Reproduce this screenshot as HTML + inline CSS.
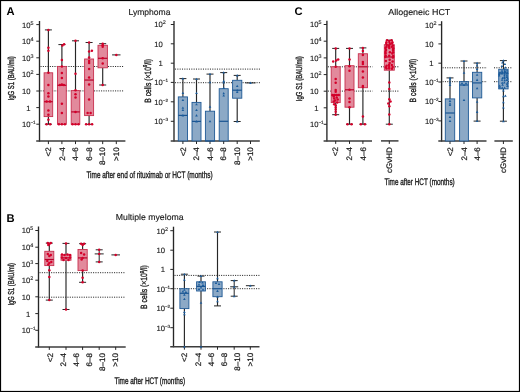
<!DOCTYPE html><html><head><meta charset="utf-8"><style>html,body{margin:0;padding:0;background:#fff;}svg{display:block;will-change:transform;}text{text-rendering:geometricPrecision;} .t{stroke:#1a1a1a;stroke-width:0.22px;} .ty{stroke:#1a1a1a;stroke-width:0.12px;} .tt{stroke:#1a1a1a;stroke-width:0.15px;} .ttl{stroke:#1a1a1a;stroke-width:0.35px;}</style></head><body>
<svg width="520" height="392" viewBox="0 0 520 392" font-family='"Liberation Sans", sans-serif'>
<rect x="0" y="0" width="520" height="392" fill="#fff"/>
<rect x="0.5" y="0.5" width="519" height="391" fill="none" stroke="#000" stroke-width="1.2"/>
<text x="6.4" y="14.6" font-size="11.2" text-anchor="start" font-weight="bold" fill="#000" >A</text>
<text x="6.4" y="221.8" font-size="11.2" text-anchor="start" font-weight="bold" fill="#000" >B</text>
<text x="294.5" y="14.6" font-size="11.2" text-anchor="start" font-weight="bold" fill="#000" >C</text>
<text x="128.5" y="14.8" font-size="8.6" text-anchor="start" font-weight="normal" fill="#1a1a1a" textLength="42" lengthAdjust="spacingAndGlyphs" class="tt">Lymphoma</text>
<text x="115.8" y="220" font-size="8.6" text-anchor="start" font-weight="normal" fill="#1a1a1a" textLength="67.8" lengthAdjust="spacingAndGlyphs" class="tt">Multiple myeloma</text>
<text x="388.3" y="14.6" font-size="8.6" text-anchor="start" font-weight="normal" fill="#1a1a1a" textLength="62" lengthAdjust="spacingAndGlyphs" class="tt">Allogeneic HCT</text>
<text x="86.4" y="177.8" font-size="9.5" text-anchor="start" font-weight="normal" fill="#1a1a1a" textLength="126.2" lengthAdjust="spacingAndGlyphs" class="ttl">Time after end of rituximab or HCT (months)</text>
<text x="114.5" y="383.8" font-size="9.5" text-anchor="start" font-weight="normal" fill="#1a1a1a" textLength="70.6" lengthAdjust="spacingAndGlyphs" class="ttl">Time after HCT (months)</text>
<text x="384.5" y="184.5" font-size="9.5" text-anchor="start" font-weight="normal" fill="#1a1a1a" textLength="70.2" lengthAdjust="spacingAndGlyphs" class="ttl">Time after HCT (months)</text>
<text x="14.3" y="100.4" font-size="8.6" text-anchor="start" font-weight="normal" fill="#1a1a1a" textLength="44.2" lengthAdjust="spacingAndGlyphs" transform="rotate(-90 14.3 100.4)" class="ttl">IgG S1 (BAU/ml)</text>
<text x="13.9" y="305.5" font-size="8.6" text-anchor="start" font-weight="normal" fill="#1a1a1a" textLength="42.5" lengthAdjust="spacingAndGlyphs" transform="rotate(-90 13.9 305.5)" class="ttl">IgG S1 (BAU/ml)</text>
<text x="302.2" y="101.2" font-size="8.6" text-anchor="start" font-weight="normal" fill="#1a1a1a" textLength="45" lengthAdjust="spacingAndGlyphs" transform="rotate(-90 302.2 101.2)" class="ttl">IgG S1 (BAU/ml)</text>
<text class="ttl" x="150.6" y="102.7" font-size="9.1" fill="#1a1a1a" transform="rotate(-90 150.6 102.7)" textLength="43.6" lengthAdjust="spacingAndGlyphs">B cells (×10<tspan font-size="5.6" dy="-3.4">9</tspan><tspan dy="3.4">/l)</tspan></text>
<text class="ttl" x="147.2" y="308.9" font-size="9.1" fill="#1a1a1a" transform="rotate(-90 147.2 308.9)" textLength="43.6" lengthAdjust="spacingAndGlyphs">B cells (×10<tspan font-size="5.6" dy="-3.4">9</tspan><tspan dy="3.4">/l)</tspan></text>
<text class="ttl" x="416.2" y="102.4" font-size="9.1" fill="#1a1a1a" transform="rotate(-90 416.2 102.4)" textLength="43.6" lengthAdjust="spacingAndGlyphs">B cells (×10<tspan font-size="5.6" dy="-3.4">9</tspan><tspan dy="3.4">/l)</tspan></text>
<line x1="39.5" y1="21" x2="39.5" y2="141.7" stroke="#262626" stroke-width="1.35" />
<line x1="36.3" y1="24.6" x2="39.5" y2="24.6" stroke="#262626" stroke-width="1" />
<text x="30.5" y="27.5" font-size="7.7" text-anchor="end" fill="#1a1a1a" class="ty">10</text>
<text x="30.45" y="24.5" font-size="5.4" text-anchor="start" fill="#1a1a1a" class="ty">5</text>
<line x1="36.3" y1="41.2" x2="39.5" y2="41.2" stroke="#262626" stroke-width="1" />
<text x="30.5" y="44.1" font-size="7.7" text-anchor="end" fill="#1a1a1a" class="ty">10</text>
<text x="30.45" y="41.1" font-size="5.4" text-anchor="start" fill="#1a1a1a" class="ty">4</text>
<line x1="36.3" y1="57.8" x2="39.5" y2="57.8" stroke="#262626" stroke-width="1" />
<text x="30.5" y="60.7" font-size="7.7" text-anchor="end" fill="#1a1a1a" class="ty">10</text>
<text x="30.45" y="57.7" font-size="5.4" text-anchor="start" fill="#1a1a1a" class="ty">3</text>
<line x1="36.3" y1="74.4" x2="39.5" y2="74.4" stroke="#262626" stroke-width="1" />
<text x="30.5" y="77.3" font-size="7.7" text-anchor="end" fill="#1a1a1a" class="ty">10</text>
<text x="30.45" y="74.3" font-size="5.4" text-anchor="start" fill="#1a1a1a" class="ty">2</text>
<line x1="36.3" y1="91" x2="39.5" y2="91" stroke="#262626" stroke-width="1" />
<text x="30.5" y="93.9" font-size="7.7" text-anchor="end" fill="#1a1a1a" class="ty">10</text>
<line x1="36.3" y1="107.6" x2="39.5" y2="107.6" stroke="#262626" stroke-width="1" />
<text x="30.5" y="110.5" font-size="7.7" text-anchor="end" fill="#1a1a1a" class="ty">1</text>
<line x1="36.3" y1="124.2" x2="39.5" y2="124.2" stroke="#262626" stroke-width="1" />
<text x="30.5" y="127.1" font-size="7.7" text-anchor="end" fill="#1a1a1a" class="ty">10</text>
<text x="30.45" y="124.1" font-size="4.6" text-anchor="start" fill="#1a1a1a" class="ty">−1</text>
<line x1="40.5" y1="66.5" x2="124" y2="66.5" stroke="#222" stroke-width="1" stroke-dasharray="1.05 1.28"/>
<line x1="40.5" y1="90.9" x2="124" y2="90.9" stroke="#222" stroke-width="1" stroke-dasharray="1.05 1.28"/>
<line x1="36.2" y1="141.1" x2="125.4" y2="141.1" stroke="#3c3c3c" stroke-width="1.5" />
<line x1="48.4" y1="141.1" x2="48.4" y2="144.1" stroke="#262626" stroke-width="1" />
<line x1="61.9" y1="141.1" x2="61.9" y2="144.1" stroke="#262626" stroke-width="1" />
<line x1="75.5" y1="141.1" x2="75.5" y2="144.1" stroke="#262626" stroke-width="1" />
<line x1="89.1" y1="141.1" x2="89.1" y2="144.1" stroke="#262626" stroke-width="1" />
<line x1="102.7" y1="141.1" x2="102.7" y2="144.1" stroke="#262626" stroke-width="1" />
<line x1="116.3" y1="141.1" x2="116.3" y2="144.1" stroke="#262626" stroke-width="1" />
<text x="51.2" y="147.3" font-size="8" text-anchor="end" font-weight="normal" fill="#1a1a1a" transform="rotate(-90 51.2 147.3)" class="t">&lt;2</text>
<text x="64.7" y="147.3" font-size="8" text-anchor="end" font-weight="normal" fill="#1a1a1a" transform="rotate(-90 64.7 147.3)" class="t">2–4</text>
<text x="78.3" y="147.3" font-size="8" text-anchor="end" font-weight="normal" fill="#1a1a1a" transform="rotate(-90 78.3 147.3)" class="t">4–6</text>
<text x="91.9" y="147.3" font-size="8" text-anchor="end" font-weight="normal" fill="#1a1a1a" transform="rotate(-90 91.9 147.3)" class="t">6–8</text>
<text x="105.5" y="147.3" font-size="8" text-anchor="end" font-weight="normal" fill="#1a1a1a" transform="rotate(-90 105.5 147.3)" class="t">8–10</text>
<text x="119.1" y="147.3" font-size="8" text-anchor="end" font-weight="normal" fill="#1a1a1a" transform="rotate(-90 119.1 147.3)" class="t">&gt;10</text>
<line x1="48.4" y1="29.9" x2="48.4" y2="72.8" stroke="#262626" stroke-width="1.15" />
<line x1="48.4" y1="116.6" x2="48.4" y2="124.2" stroke="#262626" stroke-width="1.15" />
<line x1="44.9" y1="29.9" x2="51.9" y2="29.9" stroke="#262626" stroke-width="1" />
<line x1="44.9" y1="124.2" x2="51.9" y2="124.2" stroke="#262626" stroke-width="1" />
<rect x="44.1" y="72.8" width="8.6" height="43.8" fill="#e28a9c" stroke="#c8304f" stroke-width="0.9"/>
<line x1="44.1" y1="101.7" x2="52.7" y2="101.7" stroke="#b8002a" stroke-width="1.2" />
<circle cx="48.4" cy="29.9" r="1.25" fill="#d4002a"/>
<circle cx="48.4" cy="47.7" r="1.25" fill="#d4002a"/>
<circle cx="48.4" cy="50.7" r="1.25" fill="#d4002a"/>
<circle cx="48.4" cy="72.8" r="1.25" fill="#d4002a"/>
<circle cx="48.4" cy="85.1" r="1.25" fill="#d4002a"/>
<circle cx="48.4" cy="93.2" r="1.25" fill="#d4002a"/>
<circle cx="48.4" cy="96.6" r="1.25" fill="#d4002a"/>
<circle cx="46.6" cy="101.5" r="1.25" fill="#d4002a"/>
<circle cx="50" cy="101.5" r="1.25" fill="#d4002a"/>
<circle cx="48.4" cy="110.6" r="1.25" fill="#d4002a"/>
<circle cx="48.4" cy="114.7" r="1.25" fill="#d4002a"/>
<circle cx="48.4" cy="119.8" r="1.25" fill="#d4002a"/>
<circle cx="46.6" cy="124.2" r="1.25" fill="#d4002a"/>
<circle cx="50.2" cy="124.2" r="1.25" fill="#d4002a"/>
<line x1="61.9" y1="44.6" x2="61.9" y2="66.4" stroke="#262626" stroke-width="1.15" />
<line x1="61.9" y1="124.2" x2="61.9" y2="124.2" stroke="#262626" stroke-width="1.15" />
<line x1="58.4" y1="44.6" x2="65.4" y2="44.6" stroke="#262626" stroke-width="1" />
<line x1="58.4" y1="124.2" x2="65.4" y2="124.2" stroke="#262626" stroke-width="1" />
<rect x="57.5" y="66.4" width="8.8" height="57.8" fill="#e28a9c" stroke="#c8304f" stroke-width="0.9"/>
<line x1="57.5" y1="85.3" x2="66.3" y2="85.3" stroke="#b8002a" stroke-width="1.2" />
<circle cx="62.4" cy="45.5" r="1.25" fill="#d4002a"/>
<circle cx="64.1" cy="44.2" r="1.25" fill="#d4002a"/>
<circle cx="61.9" cy="59.9" r="1.25" fill="#d4002a"/>
<circle cx="61.9" cy="66.4" r="1.25" fill="#d4002a"/>
<circle cx="61.9" cy="73" r="1.25" fill="#d4002a"/>
<circle cx="61.9" cy="77.9" r="1.25" fill="#d4002a"/>
<circle cx="61.9" cy="84.5" r="1.25" fill="#d4002a"/>
<circle cx="59.9" cy="85" r="1.25" fill="#d4002a"/>
<circle cx="63.9" cy="85" r="1.25" fill="#d4002a"/>
<circle cx="61.9" cy="103.75" r="1.25" fill="#d4002a"/>
<circle cx="61.9" cy="113.1" r="1.25" fill="#d4002a"/>
<circle cx="58.9" cy="124.2" r="1.25" fill="#d4002a"/>
<circle cx="61.9" cy="124.2" r="1.25" fill="#d4002a"/>
<circle cx="64.9" cy="124.2" r="1.25" fill="#d4002a"/>
<line x1="75.5" y1="40.8" x2="75.5" y2="90.6" stroke="#262626" stroke-width="1.15" />
<line x1="75.5" y1="124.2" x2="75.5" y2="124.2" stroke="#262626" stroke-width="1.15" />
<line x1="72" y1="40.8" x2="79" y2="40.8" stroke="#262626" stroke-width="1" />
<line x1="72" y1="124.2" x2="79" y2="124.2" stroke="#262626" stroke-width="1" />
<rect x="71.2" y="90.6" width="8.6" height="33.6" fill="#e28a9c" stroke="#c8304f" stroke-width="0.9"/>
<line x1="71.2" y1="111.9" x2="79.8" y2="111.9" stroke="#b8002a" stroke-width="1.2" />
<circle cx="75.5" cy="40.8" r="1.25" fill="#d4002a"/>
<circle cx="75.5" cy="73.8" r="1.25" fill="#d4002a"/>
<circle cx="75.5" cy="90.2" r="1.25" fill="#d4002a"/>
<circle cx="75.5" cy="94.2" r="1.25" fill="#d4002a"/>
<circle cx="75.5" cy="97.6" r="1.25" fill="#d4002a"/>
<circle cx="75.5" cy="111.9" r="1.25" fill="#d4002a"/>
<circle cx="72.5" cy="124.2" r="1.25" fill="#d4002a"/>
<circle cx="75.5" cy="124.2" r="1.25" fill="#d4002a"/>
<circle cx="78.5" cy="124.2" r="1.25" fill="#d4002a"/>
<line x1="89.1" y1="42.5" x2="89.1" y2="59" stroke="#262626" stroke-width="1.15" />
<line x1="89.1" y1="115.6" x2="89.1" y2="124.3" stroke="#262626" stroke-width="1.15" />
<line x1="85.6" y1="42.5" x2="92.6" y2="42.5" stroke="#262626" stroke-width="1" />
<line x1="85.6" y1="124.3" x2="92.6" y2="124.3" stroke="#262626" stroke-width="1" />
<rect x="84.6" y="59" width="9" height="56.6" fill="#e28a9c" stroke="#c8304f" stroke-width="0.9"/>
<line x1="84.6" y1="80.05" x2="93.6" y2="80.05" stroke="#b8002a" stroke-width="1.2" />
<circle cx="89.1" cy="42.5" r="1.25" fill="#d4002a"/>
<circle cx="89.1" cy="51.4" r="1.25" fill="#d4002a"/>
<circle cx="91.9" cy="50.8" r="1.25" fill="#d4002a"/>
<circle cx="89.1" cy="57.5" r="1.25" fill="#d4002a"/>
<circle cx="89.1" cy="61" r="1.25" fill="#d4002a"/>
<circle cx="89.1" cy="63" r="1.25" fill="#d4002a"/>
<circle cx="89.1" cy="69" r="1.25" fill="#d4002a"/>
<circle cx="89.1" cy="77.4" r="1.25" fill="#d4002a"/>
<circle cx="89.1" cy="84.5" r="1.25" fill="#d4002a"/>
<circle cx="89.1" cy="99.5" r="1.25" fill="#d4002a"/>
<circle cx="87.6" cy="113" r="1.25" fill="#d4002a"/>
<circle cx="90.6" cy="113" r="1.25" fill="#d4002a"/>
<circle cx="86.1" cy="124.3" r="1.25" fill="#d4002a"/>
<circle cx="89.1" cy="124.3" r="1.25" fill="#d4002a"/>
<circle cx="92.1" cy="124.3" r="1.25" fill="#d4002a"/>
<line x1="102.7" y1="43.7" x2="102.7" y2="45.3" stroke="#262626" stroke-width="1.15" />
<line x1="102.7" y1="67.8" x2="102.7" y2="85" stroke="#262626" stroke-width="1.15" />
<line x1="99.2" y1="43.7" x2="106.2" y2="43.7" stroke="#262626" stroke-width="1" />
<line x1="99.2" y1="85" x2="106.2" y2="85" stroke="#262626" stroke-width="1" />
<rect x="98" y="45.3" width="9.4" height="22.5" fill="#e28a9c" stroke="#c8304f" stroke-width="0.9"/>
<line x1="98" y1="58.3" x2="107.4" y2="58.3" stroke="#b8002a" stroke-width="1.2" />
<circle cx="102.7" cy="43.7" r="1.25" fill="#d4002a"/>
<circle cx="102.7" cy="45.3" r="1.25" fill="#d4002a"/>
<circle cx="102.7" cy="46.8" r="1.25" fill="#d4002a"/>
<circle cx="102.7" cy="58.3" r="1.25" fill="#d4002a"/>
<circle cx="102.7" cy="63.6" r="1.25" fill="#d4002a"/>
<circle cx="102.7" cy="85" r="1.25" fill="#d4002a"/>
<line x1="112.1" y1="54.9" x2="120.5" y2="54.9" stroke="#262626" stroke-width="1" />
<circle cx="116.3" cy="54.9" r="1.25" fill="#d4002a"/>
<line x1="174" y1="21.1" x2="174" y2="141.6" stroke="#262626" stroke-width="1.35" />
<line x1="170.8" y1="24.5" x2="174" y2="24.5" stroke="#262626" stroke-width="1" />
<text x="162.8" y="27.4" font-size="7.7" text-anchor="end" fill="#1a1a1a" class="ty">10</text>
<text x="162.75" y="24.4" font-size="5.4" text-anchor="start" fill="#1a1a1a" class="ty">2</text>
<line x1="170.8" y1="43.8" x2="174" y2="43.8" stroke="#262626" stroke-width="1" />
<text x="162.8" y="46.7" font-size="7.7" text-anchor="end" fill="#1a1a1a" class="ty">10</text>
<line x1="170.8" y1="63.2" x2="174" y2="63.2" stroke="#262626" stroke-width="1" />
<text x="162.8" y="66.1" font-size="7.7" text-anchor="end" fill="#1a1a1a" class="ty">1</text>
<line x1="170.8" y1="82.4" x2="174" y2="82.4" stroke="#262626" stroke-width="1" />
<text x="162.8" y="85.3" font-size="7.7" text-anchor="end" fill="#1a1a1a" class="ty">10</text>
<text x="162.75" y="82.3" font-size="4.6" text-anchor="start" fill="#1a1a1a" class="ty">−1</text>
<line x1="170.8" y1="101.8" x2="174" y2="101.8" stroke="#262626" stroke-width="1" />
<text x="162.8" y="104.7" font-size="7.7" text-anchor="end" fill="#1a1a1a" class="ty">10</text>
<text x="162.75" y="101.7" font-size="4.6" text-anchor="start" fill="#1a1a1a" class="ty">−2</text>
<line x1="170.8" y1="121.3" x2="174" y2="121.3" stroke="#262626" stroke-width="1" />
<text x="162.8" y="124.2" font-size="7.7" text-anchor="end" fill="#1a1a1a" class="ty">10</text>
<text x="162.75" y="121.2" font-size="4.6" text-anchor="start" fill="#1a1a1a" class="ty">−3</text>
<line x1="175" y1="69.1" x2="260" y2="69.1" stroke="#222" stroke-width="1" stroke-dasharray="1.05 1.28"/>
<line x1="175" y1="82.7" x2="260" y2="82.7" stroke="#222" stroke-width="1" stroke-dasharray="1.05 1.28"/>
<line x1="170.7" y1="141" x2="259.8" y2="141" stroke="#3c3c3c" stroke-width="1.5" />
<line x1="182.9" y1="141" x2="182.9" y2="144" stroke="#262626" stroke-width="1" />
<line x1="196.5" y1="141" x2="196.5" y2="144" stroke="#262626" stroke-width="1" />
<line x1="210" y1="141" x2="210" y2="144" stroke="#262626" stroke-width="1" />
<line x1="223.7" y1="141" x2="223.7" y2="144" stroke="#262626" stroke-width="1" />
<line x1="237.2" y1="141" x2="237.2" y2="144" stroke="#262626" stroke-width="1" />
<line x1="250.5" y1="141" x2="250.5" y2="144" stroke="#262626" stroke-width="1" />
<text x="185.7" y="147.2" font-size="8" text-anchor="end" font-weight="normal" fill="#1a1a1a" transform="rotate(-90 185.7 147.2)" class="t">&lt;2</text>
<text x="199.3" y="147.2" font-size="8" text-anchor="end" font-weight="normal" fill="#1a1a1a" transform="rotate(-90 199.3 147.2)" class="t">2–4</text>
<text x="212.8" y="147.2" font-size="8" text-anchor="end" font-weight="normal" fill="#1a1a1a" transform="rotate(-90 212.8 147.2)" class="t">4–6</text>
<text x="226.5" y="147.2" font-size="8" text-anchor="end" font-weight="normal" fill="#1a1a1a" transform="rotate(-90 226.5 147.2)" class="t">6–8</text>
<text x="240" y="147.2" font-size="8" text-anchor="end" font-weight="normal" fill="#1a1a1a" transform="rotate(-90 240 147.2)" class="t">8–10</text>
<text x="253.3" y="147.2" font-size="8" text-anchor="end" font-weight="normal" fill="#1a1a1a" transform="rotate(-90 253.3 147.2)" class="t">&gt;10</text>
<line x1="182.9" y1="78.6" x2="182.9" y2="96.9" stroke="#262626" stroke-width="1.15" />
<line x1="182.9" y1="140.9" x2="182.9" y2="140.9" stroke="#262626" stroke-width="1.15" />
<line x1="179.4" y1="78.6" x2="186.4" y2="78.6" stroke="#262626" stroke-width="1" />
<rect x="178.3" y="96.9" width="9.2" height="44" fill="#8ca9c6" stroke="#1f5a96" stroke-width="0.9"/>
<line x1="178.3" y1="115.4" x2="187.5" y2="115.4" stroke="#1a5592" stroke-width="1.2" />
<path d="M181.6 79.6 L182.9 77.3 L184.2 79.6 Z" fill="#1b5c9c"/>
<path d="M181.6 94 L182.9 91.7 L184.2 94 Z" fill="#1b5c9c"/>
<path d="M181.6 101.1 L182.9 98.8 L184.2 101.1 Z" fill="#1b5c9c"/>
<path d="M181.6 108.8 L182.9 106.5 L184.2 108.8 Z" fill="#1b5c9c"/>
<path d="M181.6 111 L182.9 108.7 L184.2 111 Z" fill="#1b5c9c"/>
<path d="M181.6 116.4 L182.9 114.1 L184.2 116.4 Z" fill="#1b5c9c"/>
<line x1="196.5" y1="79" x2="196.5" y2="102.4" stroke="#262626" stroke-width="1.15" />
<line x1="196.5" y1="140.9" x2="196.5" y2="140.9" stroke="#262626" stroke-width="1.15" />
<line x1="193" y1="79" x2="200" y2="79" stroke="#262626" stroke-width="1" />
<rect x="192" y="102.4" width="9" height="38.5" fill="#8ca9c6" stroke="#1f5a96" stroke-width="0.9"/>
<line x1="192" y1="121.4" x2="201" y2="121.4" stroke="#1a5592" stroke-width="1.2" />
<path d="M195.2 80 L196.5 77.7 L197.8 80 Z" fill="#1b5c9c"/>
<path d="M195.2 94 L196.5 91.7 L197.8 94 Z" fill="#1b5c9c"/>
<path d="M195.2 105.2 L196.5 102.9 L197.8 105.2 Z" fill="#1b5c9c"/>
<path d="M195.2 111 L196.5 108.7 L197.8 111 Z" fill="#1b5c9c"/>
<path d="M195.2 116.4 L196.5 114.1 L197.8 116.4 Z" fill="#1b5c9c"/>
<path d="M195.2 122.4 L196.5 120.1 L197.8 122.4 Z" fill="#1b5c9c"/>
<line x1="210" y1="74.1" x2="210" y2="111.2" stroke="#262626" stroke-width="1.15" />
<line x1="210" y1="140.9" x2="210" y2="140.9" stroke="#262626" stroke-width="1.15" />
<line x1="206.5" y1="74.1" x2="213.5" y2="74.1" stroke="#262626" stroke-width="1" />
<rect x="205.4" y="111.2" width="9.2" height="29.7" fill="#8ca9c6" stroke="#1f5a96" stroke-width="0.9"/>
<line x1="205.4" y1="140.9" x2="214.6" y2="140.9" stroke="#1a5592" stroke-width="1.2" />
<path d="M208.7 75.1 L210 72.8 L211.3 75.1 Z" fill="#1b5c9c"/>
<path d="M208.7 83.3 L210 81 L211.3 83.3 Z" fill="#1b5c9c"/>
<path d="M208.7 107.7 L210 105.4 L211.3 107.7 Z" fill="#1b5c9c"/>
<path d="M208.7 122.3 L210 120 L211.3 122.3 Z" fill="#1b5c9c"/>
<line x1="223.7" y1="72.6" x2="223.7" y2="88.7" stroke="#262626" stroke-width="1.15" />
<line x1="223.7" y1="140.9" x2="223.7" y2="140.9" stroke="#262626" stroke-width="1.15" />
<line x1="220.2" y1="72.6" x2="227.2" y2="72.6" stroke="#262626" stroke-width="1" />
<rect x="219.2" y="88.7" width="9" height="52.2" fill="#8ca9c6" stroke="#1f5a96" stroke-width="0.9"/>
<line x1="219.2" y1="121.3" x2="228.2" y2="121.3" stroke="#1a5592" stroke-width="1.2" />
<path d="M222.4 73.6 L223.7 71.3 L225 73.6 Z" fill="#1b5c9c"/>
<path d="M222.4 82 L223.7 79.7 L225 82 Z" fill="#1b5c9c"/>
<path d="M222.4 83.6 L223.7 81.3 L225 83.6 Z" fill="#1b5c9c"/>
<path d="M222.4 89 L223.7 86.7 L225 89 Z" fill="#1b5c9c"/>
<path d="M222.4 94.3 L223.7 92 L225 94.3 Z" fill="#1b5c9c"/>
<path d="M222.4 96.6 L223.7 94.3 L225 96.6 Z" fill="#1b5c9c"/>
<line x1="237.2" y1="75.4" x2="237.2" y2="80.3" stroke="#262626" stroke-width="1.15" />
<line x1="237.2" y1="98.2" x2="237.2" y2="121.5" stroke="#262626" stroke-width="1.15" />
<line x1="233.7" y1="75.4" x2="240.7" y2="75.4" stroke="#262626" stroke-width="1" />
<line x1="233.7" y1="121.5" x2="240.7" y2="121.5" stroke="#262626" stroke-width="1" />
<rect x="232.6" y="80.3" width="9.2" height="17.9" fill="#8ca9c6" stroke="#1f5a96" stroke-width="0.9"/>
<line x1="232.6" y1="90.2" x2="241.8" y2="90.2" stroke="#1a5592" stroke-width="1.2" />
<path d="M235.9 76.4 L237.2 74.1 L238.5 76.4 Z" fill="#1b5c9c"/>
<path d="M235.9 87 L237.2 84.7 L238.5 87 Z" fill="#1b5c9c"/>
<path d="M235.9 91.2 L237.2 88.9 L238.5 91.2 Z" fill="#1b5c9c"/>
<path d="M235.9 93 L237.2 90.7 L238.5 93 Z" fill="#1b5c9c"/>
<path d="M235.9 122.5 L237.2 120.2 L238.5 122.5 Z" fill="#1b5c9c"/>
<line x1="245.5" y1="82.9" x2="255.5" y2="82.9" stroke="#262626" stroke-width="1" />
<path d="M249.2 83.9 L250.5 81.6 L251.8 83.9 Z" fill="#1b5c9c"/>
<line x1="326.9" y1="20.7" x2="326.9" y2="141.5" stroke="#262626" stroke-width="1.35" />
<line x1="323.7" y1="24.5" x2="326.9" y2="24.5" stroke="#262626" stroke-width="1" />
<text x="318.5" y="27.4" font-size="7.7" text-anchor="end" fill="#1a1a1a" class="ty">10</text>
<text x="318.45" y="24.4" font-size="5.4" text-anchor="start" fill="#1a1a1a" class="ty">5</text>
<line x1="323.7" y1="41.2" x2="326.9" y2="41.2" stroke="#262626" stroke-width="1" />
<text x="318.5" y="44.1" font-size="7.7" text-anchor="end" fill="#1a1a1a" class="ty">10</text>
<text x="318.45" y="41.1" font-size="5.4" text-anchor="start" fill="#1a1a1a" class="ty">4</text>
<line x1="323.7" y1="57.9" x2="326.9" y2="57.9" stroke="#262626" stroke-width="1" />
<text x="318.5" y="60.8" font-size="7.7" text-anchor="end" fill="#1a1a1a" class="ty">10</text>
<text x="318.45" y="57.8" font-size="5.4" text-anchor="start" fill="#1a1a1a" class="ty">3</text>
<line x1="323.7" y1="74.6" x2="326.9" y2="74.6" stroke="#262626" stroke-width="1" />
<text x="318.5" y="77.5" font-size="7.7" text-anchor="end" fill="#1a1a1a" class="ty">10</text>
<text x="318.45" y="74.5" font-size="5.4" text-anchor="start" fill="#1a1a1a" class="ty">2</text>
<line x1="323.7" y1="91.2" x2="326.9" y2="91.2" stroke="#262626" stroke-width="1" />
<text x="318.5" y="94.1" font-size="7.7" text-anchor="end" fill="#1a1a1a" class="ty">10</text>
<line x1="323.7" y1="107.8" x2="326.9" y2="107.8" stroke="#262626" stroke-width="1" />
<text x="318.5" y="110.7" font-size="7.7" text-anchor="end" fill="#1a1a1a" class="ty">1</text>
<line x1="323.7" y1="124.3" x2="326.9" y2="124.3" stroke="#262626" stroke-width="1" />
<text x="318.5" y="127.2" font-size="7.7" text-anchor="end" fill="#1a1a1a" class="ty">10</text>
<text x="318.45" y="124.2" font-size="4.6" text-anchor="start" fill="#1a1a1a" class="ty">−1</text>
<line x1="327.9" y1="66.8" x2="372.5" y2="66.8" stroke="#222" stroke-width="1" stroke-dasharray="1.05 1.28"/>
<line x1="381" y1="66.8" x2="398.5" y2="66.8" stroke="#222" stroke-width="1" stroke-dasharray="1.05 1.28"/>
<line x1="327.9" y1="91.1" x2="372.5" y2="91.1" stroke="#222" stroke-width="1" stroke-dasharray="1.05 1.28"/>
<line x1="381" y1="91.1" x2="398.5" y2="91.1" stroke="#222" stroke-width="1" stroke-dasharray="1.05 1.28"/>
<line x1="323.6" y1="140.9" x2="372" y2="140.9" stroke="#3c3c3c" stroke-width="1.5" />
<line x1="381" y1="140.9" x2="398.5" y2="140.9" stroke="#3c3c3c" stroke-width="1.5" />
<line x1="335.7" y1="140.9" x2="335.7" y2="143.9" stroke="#262626" stroke-width="1" />
<line x1="349.5" y1="140.9" x2="349.5" y2="143.9" stroke="#262626" stroke-width="1" />
<line x1="362.9" y1="140.9" x2="362.9" y2="143.9" stroke="#262626" stroke-width="1" />
<line x1="389.3" y1="140.9" x2="389.3" y2="143.9" stroke="#262626" stroke-width="1" />
<text x="338.5" y="147.1" font-size="8" text-anchor="end" font-weight="normal" fill="#1a1a1a" transform="rotate(-90 338.5 147.1)" class="t">&lt;2</text>
<text x="352.3" y="147.1" font-size="8" text-anchor="end" font-weight="normal" fill="#1a1a1a" transform="rotate(-90 352.3 147.1)" class="t">2–4</text>
<text x="365.7" y="147.1" font-size="8" text-anchor="end" font-weight="normal" fill="#1a1a1a" transform="rotate(-90 365.7 147.1)" class="t">4–6</text>
<text x="392.1" y="147.1" font-size="8" text-anchor="end" font-weight="normal" fill="#1a1a1a" transform="rotate(-90 392.1 147.1)" class="t">cGvHD</text>
<line x1="335.7" y1="48.4" x2="335.7" y2="66.8" stroke="#262626" stroke-width="1.15" />
<line x1="335.7" y1="102.6" x2="335.7" y2="114.7" stroke="#262626" stroke-width="1.15" />
<line x1="332.2" y1="48.4" x2="339.2" y2="48.4" stroke="#262626" stroke-width="1" />
<line x1="332.2" y1="114.7" x2="339.2" y2="114.7" stroke="#262626" stroke-width="1" />
<rect x="331.2" y="66.8" width="9" height="35.8" fill="#e28a9c" stroke="#c8304f" stroke-width="0.9"/>
<line x1="331.2" y1="95.1" x2="340.2" y2="95.1" stroke="#b8002a" stroke-width="1.2" />
<circle cx="335.7" cy="48.4" r="1.25" fill="#d4002a"/>
<circle cx="333.2" cy="61.5" r="1.25" fill="#d4002a"/>
<circle cx="336.2" cy="60.5" r="1.25" fill="#d4002a"/>
<circle cx="338.2" cy="59.5" r="1.25" fill="#d4002a"/>
<circle cx="335.7" cy="66.8" r="1.25" fill="#d4002a"/>
<circle cx="335.7" cy="79" r="1.25" fill="#d4002a"/>
<circle cx="335.7" cy="82.8" r="1.25" fill="#d4002a"/>
<circle cx="335.7" cy="90" r="1.25" fill="#d4002a"/>
<circle cx="335.7" cy="91.7" r="1.25" fill="#d4002a"/>
<circle cx="332.7" cy="95.1" r="1.25" fill="#d4002a"/>
<circle cx="334.7" cy="95.1" r="1.25" fill="#d4002a"/>
<circle cx="336.7" cy="95.1" r="1.25" fill="#d4002a"/>
<circle cx="338.7" cy="95.1" r="1.25" fill="#d4002a"/>
<circle cx="333.7" cy="96.5" r="1.25" fill="#d4002a"/>
<circle cx="336.7" cy="97.5" r="1.25" fill="#d4002a"/>
<circle cx="334.2" cy="98.5" r="1.25" fill="#d4002a"/>
<circle cx="337.7" cy="99.5" r="1.25" fill="#d4002a"/>
<circle cx="335.2" cy="100.5" r="1.25" fill="#d4002a"/>
<circle cx="333.7" cy="101.5" r="1.25" fill="#d4002a"/>
<circle cx="337.2" cy="102.5" r="1.25" fill="#d4002a"/>
<circle cx="334.2" cy="104.3" r="1.25" fill="#d4002a"/>
<circle cx="335.7" cy="105.5" r="1.25" fill="#d4002a"/>
<circle cx="335.7" cy="107.5" r="1.25" fill="#d4002a"/>
<circle cx="335.7" cy="109.5" r="1.25" fill="#d4002a"/>
<circle cx="335.7" cy="111.8" r="1.25" fill="#d4002a"/>
<circle cx="335.7" cy="114.7" r="1.25" fill="#d4002a"/>
<line x1="349.5" y1="48.4" x2="349.5" y2="65.7" stroke="#262626" stroke-width="1.15" />
<line x1="349.5" y1="107.2" x2="349.5" y2="124.2" stroke="#262626" stroke-width="1.15" />
<line x1="346" y1="48.4" x2="353" y2="48.4" stroke="#262626" stroke-width="1" />
<line x1="346" y1="124.2" x2="353" y2="124.2" stroke="#262626" stroke-width="1" />
<rect x="345" y="65.7" width="9" height="41.5" fill="#e28a9c" stroke="#c8304f" stroke-width="0.9"/>
<line x1="345" y1="89.8" x2="354" y2="89.8" stroke="#b8002a" stroke-width="1.2" />
<circle cx="349.5" cy="48.4" r="1.25" fill="#d4002a"/>
<circle cx="349.5" cy="59.6" r="1.25" fill="#d4002a"/>
<circle cx="349.5" cy="66.25" r="1.25" fill="#d4002a"/>
<circle cx="349.5" cy="70.7" r="1.25" fill="#d4002a"/>
<circle cx="349.5" cy="89.8" r="1.25" fill="#d4002a"/>
<circle cx="349.5" cy="98.4" r="1.25" fill="#d4002a"/>
<circle cx="349.5" cy="102" r="1.25" fill="#d4002a"/>
<circle cx="349.5" cy="107.2" r="1.25" fill="#d4002a"/>
<circle cx="347.5" cy="124.2" r="1.25" fill="#d4002a"/>
<circle cx="351.5" cy="124.2" r="1.25" fill="#d4002a"/>
<line x1="362.9" y1="47.9" x2="362.9" y2="53.75" stroke="#262626" stroke-width="1.15" />
<line x1="362.9" y1="87.7" x2="362.9" y2="124.2" stroke="#262626" stroke-width="1.15" />
<line x1="359.4" y1="47.9" x2="366.4" y2="47.9" stroke="#262626" stroke-width="1" />
<line x1="359.4" y1="124.2" x2="366.4" y2="124.2" stroke="#262626" stroke-width="1" />
<rect x="358.3" y="53.75" width="9.2" height="33.95" fill="#e28a9c" stroke="#c8304f" stroke-width="0.9"/>
<line x1="358.3" y1="66.8" x2="367.5" y2="66.8" stroke="#b8002a" stroke-width="1.2" />
<circle cx="362.9" cy="47.9" r="1.25" fill="#d4002a"/>
<circle cx="362.9" cy="51" r="1.25" fill="#d4002a"/>
<circle cx="362.9" cy="55" r="1.25" fill="#d4002a"/>
<circle cx="362.9" cy="62" r="1.25" fill="#d4002a"/>
<circle cx="362.9" cy="64" r="1.25" fill="#d4002a"/>
<circle cx="362.9" cy="71.5" r="1.25" fill="#d4002a"/>
<circle cx="362.9" cy="77.5" r="1.25" fill="#d4002a"/>
<circle cx="362.9" cy="86" r="1.25" fill="#d4002a"/>
<circle cx="362.9" cy="87" r="1.25" fill="#d4002a"/>
<circle cx="362.9" cy="116.4" r="1.25" fill="#d4002a"/>
<circle cx="360.9" cy="124.2" r="1.25" fill="#d4002a"/>
<circle cx="364.9" cy="124.2" r="1.25" fill="#d4002a"/>
<line x1="389.3" y1="40.2" x2="389.3" y2="44.7" stroke="#262626" stroke-width="1.15" />
<line x1="389.3" y1="70.2" x2="389.3" y2="124.2" stroke="#262626" stroke-width="1.15" />
<line x1="385.8" y1="40.2" x2="392.8" y2="40.2" stroke="#262626" stroke-width="1" />
<line x1="385.8" y1="124.2" x2="392.8" y2="124.2" stroke="#262626" stroke-width="1" />
<rect x="384.3" y="44.7" width="10" height="25.5" fill="#e28a9c" stroke="#c8304f" stroke-width="0.9"/>
<line x1="384.3" y1="57" x2="394.3" y2="57" stroke="#b8002a" stroke-width="1.2" />
<circle cx="387.1" cy="40.3" r="1.25" fill="#d4002a"/>
<circle cx="391.5" cy="40.3" r="1.25" fill="#d4002a"/>
<circle cx="389.3" cy="41" r="1.25" fill="#d4002a"/>
<circle cx="386.4" cy="42.3" r="1.25" fill="#d4002a"/>
<circle cx="389.5" cy="42.6" r="1.25" fill="#d4002a"/>
<circle cx="392.4" cy="42.3" r="1.25" fill="#d4002a"/>
<circle cx="386.3" cy="43.5" r="1.25" fill="#d4002a"/>
<circle cx="389.9" cy="43.9" r="1.25" fill="#d4002a"/>
<circle cx="392.1" cy="43.5" r="1.25" fill="#d4002a"/>
<circle cx="386.7" cy="45" r="1.25" fill="#d4002a"/>
<circle cx="389" cy="45.5" r="1.25" fill="#d4002a"/>
<circle cx="392.9" cy="45.7" r="1.25" fill="#d4002a"/>
<circle cx="386.4" cy="46.9" r="1.25" fill="#d4002a"/>
<circle cx="388.9" cy="46.5" r="1.25" fill="#d4002a"/>
<circle cx="391.8" cy="46.8" r="1.25" fill="#d4002a"/>
<circle cx="385.5" cy="48.1" r="1.25" fill="#d4002a"/>
<circle cx="389.3" cy="47.9" r="1.25" fill="#d4002a"/>
<circle cx="393.2" cy="48.3" r="1.25" fill="#d4002a"/>
<circle cx="386" cy="50.1" r="1.25" fill="#d4002a"/>
<circle cx="393" cy="50.1" r="1.25" fill="#d4002a"/>
<circle cx="385.5" cy="51.9" r="1.25" fill="#d4002a"/>
<circle cx="389.9" cy="52.3" r="1.25" fill="#d4002a"/>
<circle cx="393" cy="52.2" r="1.25" fill="#d4002a"/>
<circle cx="385.5" cy="53.6" r="1.25" fill="#d4002a"/>
<circle cx="392.3" cy="53.5" r="1.25" fill="#d4002a"/>
<circle cx="385.7" cy="55.7" r="1.25" fill="#d4002a"/>
<circle cx="389.2" cy="55.8" r="1.25" fill="#d4002a"/>
<circle cx="393.2" cy="55.9" r="1.25" fill="#d4002a"/>
<circle cx="385.4" cy="56.9" r="1.25" fill="#d4002a"/>
<circle cx="392.9" cy="57.6" r="1.25" fill="#d4002a"/>
<circle cx="389.7" cy="59.7" r="1.25" fill="#d4002a"/>
<circle cx="385.9" cy="61" r="1.25" fill="#d4002a"/>
<circle cx="392.6" cy="61.5" r="1.25" fill="#d4002a"/>
<circle cx="389.6" cy="63" r="1.25" fill="#d4002a"/>
<circle cx="386.6" cy="65.7" r="1.25" fill="#d4002a"/>
<circle cx="389" cy="65" r="1.25" fill="#d4002a"/>
<circle cx="391.8" cy="65" r="1.25" fill="#d4002a"/>
<circle cx="385.9" cy="67.3" r="1.25" fill="#d4002a"/>
<circle cx="389.2" cy="67.1" r="1.25" fill="#d4002a"/>
<circle cx="392.6" cy="66.9" r="1.25" fill="#d4002a"/>
<circle cx="386.5" cy="68.6" r="1.25" fill="#d4002a"/>
<circle cx="389.2" cy="68.6" r="1.25" fill="#d4002a"/>
<circle cx="392" cy="68.7" r="1.25" fill="#d4002a"/>
<circle cx="389.3" cy="82.4" r="1.25" fill="#d4002a"/>
<circle cx="389.3" cy="88.9" r="1.25" fill="#d4002a"/>
<circle cx="389.3" cy="99.3" r="1.25" fill="#d4002a"/>
<circle cx="390.5" cy="101.5" r="1.25" fill="#d4002a"/>
<circle cx="388.3" cy="103.5" r="1.25" fill="#d4002a"/>
<circle cx="389.3" cy="106.2" r="1.25" fill="#d4002a"/>
<circle cx="389.3" cy="114.4" r="1.25" fill="#d4002a"/>
<circle cx="389.3" cy="124.2" r="1.25" fill="#d4002a"/>
<line x1="441.6" y1="21.2" x2="441.6" y2="141.6" stroke="#262626" stroke-width="1.35" />
<line x1="438.4" y1="24.8" x2="441.6" y2="24.8" stroke="#262626" stroke-width="1" />
<text x="433.5" y="27.7" font-size="7.7" text-anchor="end" fill="#1a1a1a" class="ty">10</text>
<text x="433.45" y="24.7" font-size="5.4" text-anchor="start" fill="#1a1a1a" class="ty">2</text>
<line x1="438.4" y1="43.9" x2="441.6" y2="43.9" stroke="#262626" stroke-width="1" />
<text x="433.5" y="46.8" font-size="7.7" text-anchor="end" fill="#1a1a1a" class="ty">10</text>
<line x1="438.4" y1="63.2" x2="441.6" y2="63.2" stroke="#262626" stroke-width="1" />
<text x="433.5" y="66.1" font-size="7.7" text-anchor="end" fill="#1a1a1a" class="ty">1</text>
<line x1="438.4" y1="82" x2="441.6" y2="82" stroke="#262626" stroke-width="1" />
<text x="433.5" y="84.9" font-size="7.7" text-anchor="end" fill="#1a1a1a" class="ty">10</text>
<text x="433.45" y="81.9" font-size="4.6" text-anchor="start" fill="#1a1a1a" class="ty">−1</text>
<line x1="438.4" y1="101.5" x2="441.6" y2="101.5" stroke="#262626" stroke-width="1" />
<text x="433.5" y="104.4" font-size="7.7" text-anchor="end" fill="#1a1a1a" class="ty">10</text>
<text x="433.45" y="101.4" font-size="4.6" text-anchor="start" fill="#1a1a1a" class="ty">−2</text>
<line x1="438.4" y1="120.9" x2="441.6" y2="120.9" stroke="#262626" stroke-width="1" />
<text x="433.5" y="123.8" font-size="7.7" text-anchor="end" fill="#1a1a1a" class="ty">10</text>
<text x="433.45" y="120.8" font-size="4.6" text-anchor="start" fill="#1a1a1a" class="ty">−3</text>
<line x1="442.6" y1="67.8" x2="487" y2="67.8" stroke="#222" stroke-width="1" stroke-dasharray="1.05 1.28"/>
<line x1="494" y1="67.8" x2="511.5" y2="67.8" stroke="#222" stroke-width="1" stroke-dasharray="1.05 1.28"/>
<line x1="442.6" y1="81.7" x2="487" y2="81.7" stroke="#222" stroke-width="1" stroke-dasharray="1.05 1.28"/>
<line x1="494" y1="81.7" x2="511.5" y2="81.7" stroke="#222" stroke-width="1" stroke-dasharray="1.05 1.28"/>
<line x1="438.3" y1="141" x2="486.5" y2="141" stroke="#3c3c3c" stroke-width="1.5" />
<line x1="494.4" y1="141" x2="512.8" y2="141" stroke="#3c3c3c" stroke-width="1.5" />
<line x1="450" y1="141" x2="450" y2="144" stroke="#262626" stroke-width="1" />
<line x1="464" y1="141" x2="464" y2="144" stroke="#262626" stroke-width="1" />
<line x1="477.1" y1="141" x2="477.1" y2="144" stroke="#262626" stroke-width="1" />
<line x1="503.4" y1="141" x2="503.4" y2="144" stroke="#262626" stroke-width="1" />
<text x="452.8" y="147.2" font-size="8" text-anchor="end" font-weight="normal" fill="#1a1a1a" transform="rotate(-90 452.8 147.2)" class="t">&lt;2</text>
<text x="466.8" y="147.2" font-size="8" text-anchor="end" font-weight="normal" fill="#1a1a1a" transform="rotate(-90 466.8 147.2)" class="t">2–4</text>
<text x="479.9" y="147.2" font-size="8" text-anchor="end" font-weight="normal" fill="#1a1a1a" transform="rotate(-90 479.9 147.2)" class="t">4–6</text>
<text x="506.2" y="147.2" font-size="8" text-anchor="end" font-weight="normal" fill="#1a1a1a" transform="rotate(-90 506.2 147.2)" class="t">cGvHD</text>
<line x1="450" y1="77.9" x2="450" y2="98.9" stroke="#262626" stroke-width="1.15" />
<line x1="450" y1="141" x2="450" y2="141" stroke="#262626" stroke-width="1.15" />
<line x1="446.5" y1="77.9" x2="453.5" y2="77.9" stroke="#262626" stroke-width="1" />
<rect x="445.3" y="98.9" width="9.4" height="42.1" fill="#8ca9c6" stroke="#1f5a96" stroke-width="0.9"/>
<line x1="445.3" y1="113" x2="454.7" y2="113" stroke="#1a5592" stroke-width="1.2" />
<path d="M448.7 78.9 L450 76.6 L451.3 78.9 Z" fill="#1b5c9c"/>
<path d="M448.7 80.5 L450 78.2 L451.3 80.5 Z" fill="#1b5c9c"/>
<path d="M448.7 83.4 L450 81.1 L451.3 83.4 Z" fill="#1b5c9c"/>
<path d="M448.7 85.9 L450 83.6 L451.3 85.9 Z" fill="#1b5c9c"/>
<path d="M448.7 101.9 L450 99.6 L451.3 101.9 Z" fill="#1b5c9c"/>
<path d="M448.7 104.5 L450 102.2 L451.3 104.5 Z" fill="#1b5c9c"/>
<path d="M448.7 106 L450 103.7 L451.3 106 Z" fill="#1b5c9c"/>
<path d="M448.7 118 L450 115.7 L451.3 118 Z" fill="#1b5c9c"/>
<path d="M448.7 122.1 L450 119.8 L451.3 122.1 Z" fill="#1b5c9c"/>
<line x1="464" y1="61" x2="464" y2="81.6" stroke="#262626" stroke-width="1.15" />
<line x1="464" y1="141" x2="464" y2="141" stroke="#262626" stroke-width="1.15" />
<line x1="460.5" y1="61" x2="467.5" y2="61" stroke="#262626" stroke-width="1" />
<rect x="459.6" y="81.6" width="8.8" height="59.4" fill="#8ca9c6" stroke="#1f5a96" stroke-width="0.9"/>
<line x1="459.6" y1="85" x2="468.4" y2="85" stroke="#1a5592" stroke-width="1.2" />
<path d="M462.7 62 L464 59.7 L465.3 62 Z" fill="#1b5c9c"/>
<path d="M462.7 73.8 L464 71.5 L465.3 73.8 Z" fill="#1b5c9c"/>
<path d="M460.7 84.3 L462 82 L463.3 84.3 Z" fill="#1b5c9c"/>
<path d="M464.7 84.3 L466 82 L467.3 84.3 Z" fill="#1b5c9c"/>
<path d="M462.7 86 L464 83.7 L465.3 86 Z" fill="#1b5c9c"/>
<path d="M462.7 101.1 L464 98.8 L465.3 101.1 Z" fill="#1b5c9c"/>
<line x1="477.1" y1="63" x2="477.1" y2="72.3" stroke="#262626" stroke-width="1.15" />
<line x1="477.1" y1="97.9" x2="477.1" y2="121.1" stroke="#262626" stroke-width="1.15" />
<line x1="473.6" y1="63" x2="480.6" y2="63" stroke="#262626" stroke-width="1" />
<line x1="473.6" y1="121.1" x2="480.6" y2="121.1" stroke="#262626" stroke-width="1" />
<rect x="472.45" y="72.3" width="9.3" height="25.6" fill="#8ca9c6" stroke="#1f5a96" stroke-width="0.9"/>
<line x1="472.45" y1="82.9" x2="481.75" y2="82.9" stroke="#1a5592" stroke-width="1.2" />
<path d="M475.8 64 L477.1 61.7 L478.4 64 Z" fill="#1b5c9c"/>
<path d="M475.8 66.6 L477.1 64.3 L478.4 66.6 Z" fill="#1b5c9c"/>
<path d="M475.8 70 L477.1 67.7 L478.4 70 Z" fill="#1b5c9c"/>
<path d="M475.8 75.8 L477.1 73.5 L478.4 75.8 Z" fill="#1b5c9c"/>
<path d="M475.8 80.9 L477.1 78.6 L478.4 80.9 Z" fill="#1b5c9c"/>
<path d="M475.8 89.3 L477.1 87 L478.4 89.3 Z" fill="#1b5c9c"/>
<path d="M475.8 102.8 L477.1 100.5 L478.4 102.8 Z" fill="#1b5c9c"/>
<path d="M475.8 112.9 L477.1 110.6 L478.4 112.9 Z" fill="#1b5c9c"/>
<path d="M475.8 122.1 L477.1 119.8 L478.4 122.1 Z" fill="#1b5c9c"/>
<line x1="503.4" y1="60.6" x2="503.4" y2="69.3" stroke="#262626" stroke-width="1.15" />
<line x1="503.4" y1="88.9" x2="503.4" y2="121.2" stroke="#262626" stroke-width="1.15" />
<line x1="499.9" y1="60.6" x2="506.9" y2="60.6" stroke="#262626" stroke-width="1" />
<line x1="499.9" y1="121.2" x2="506.9" y2="121.2" stroke="#262626" stroke-width="1" />
<rect x="498.7" y="69.3" width="9.4" height="19.6" fill="#8ca9c6" stroke="#1f5a96" stroke-width="0.9"/>
<line x1="498.7" y1="73" x2="508.1" y2="73" stroke="#1a5592" stroke-width="1.2" />
<path d="M502.1 61.6 L503.4 59.3 L504.7 61.6 Z" fill="#1b5c9c"/>
<path d="M501.1 63.5 L502.4 61.2 L503.7 63.5 Z" fill="#1b5c9c"/>
<path d="M503.6 65 L504.9 62.7 L506.2 65 Z" fill="#1b5c9c"/>
<path d="M500.6 67 L501.9 64.7 L503.2 67 Z" fill="#1b5c9c"/>
<path d="M504.1 68.5 L505.4 66.2 L506.7 68.5 Z" fill="#1b5c9c"/>
<path d="M503.3 70.4 L504.6 68.1 L505.9 70.4 Z" fill="#1b5c9c"/>
<path d="M500.7 71.7 L502 69.4 L503.3 71.7 Z" fill="#1b5c9c"/>
<path d="M503.5 72 L504.8 69.7 L506.1 72 Z" fill="#1b5c9c"/>
<path d="M505.8 71.6 L507.1 69.3 L508.4 71.6 Z" fill="#1b5c9c"/>
<path d="M498.7 73.6 L500 71.3 L501.3 73.6 Z" fill="#1b5c9c"/>
<path d="M501 73.5 L502.3 71.2 L503.6 73.5 Z" fill="#1b5c9c"/>
<path d="M503.7 73.1 L505 70.8 L506.3 73.1 Z" fill="#1b5c9c"/>
<path d="M506.1 73.8 L507.4 71.5 L508.7 73.8 Z" fill="#1b5c9c"/>
<path d="M498 74.9 L499.3 72.6 L500.6 74.9 Z" fill="#1b5c9c"/>
<path d="M500.6 74.6 L501.9 72.3 L503.2 74.6 Z" fill="#1b5c9c"/>
<path d="M503.3 74.7 L504.6 72.4 L505.9 74.7 Z" fill="#1b5c9c"/>
<path d="M505.6 74.6 L506.9 72.3 L508.2 74.6 Z" fill="#1b5c9c"/>
<path d="M497.9 76.4 L499.2 74.1 L500.5 76.4 Z" fill="#1b5c9c"/>
<path d="M503.2 76.2 L504.5 73.9 L505.8 76.2 Z" fill="#1b5c9c"/>
<path d="M505.6 76.4 L506.9 74.1 L508.2 76.4 Z" fill="#1b5c9c"/>
<path d="M503.1 78 L504.4 75.7 L505.7 78 Z" fill="#1b5c9c"/>
<path d="M505.7 77.9 L507 75.6 L508.3 77.9 Z" fill="#1b5c9c"/>
<path d="M501.3 79.1 L502.6 76.8 L503.9 79.1 Z" fill="#1b5c9c"/>
<path d="M503.4 79.2 L504.7 76.9 L506 79.2 Z" fill="#1b5c9c"/>
<path d="M506.3 79.5 L507.6 77.2 L508.9 79.5 Z" fill="#1b5c9c"/>
<path d="M500.8 80.8 L502.1 78.5 L503.4 80.8 Z" fill="#1b5c9c"/>
<path d="M503.4 81.2 L504.7 78.9 L506 81.2 Z" fill="#1b5c9c"/>
<path d="M505.7 80.9 L507 78.6 L508.3 80.9 Z" fill="#1b5c9c"/>
<path d="M500.9 83.8 L502.2 81.5 L503.5 83.8 Z" fill="#1b5c9c"/>
<path d="M503 83.6 L504.3 81.3 L505.6 83.6 Z" fill="#1b5c9c"/>
<path d="M506.1 83.8 L507.4 81.5 L508.7 83.8 Z" fill="#1b5c9c"/>
<path d="M501.3 85.8 L502.6 83.5 L503.9 85.8 Z" fill="#1b5c9c"/>
<path d="M505.7 85.3 L507 83 L508.3 85.3 Z" fill="#1b5c9c"/>
<path d="M498.4 86.8 L499.7 84.5 L501 86.8 Z" fill="#1b5c9c"/>
<path d="M506.1 87.1 L507.4 84.8 L508.7 87.1 Z" fill="#1b5c9c"/>
<path d="M498.6 88.6 L499.9 86.3 L501.2 88.6 Z" fill="#1b5c9c"/>
<path d="M500.9 88.7 L502.2 86.4 L503.5 88.7 Z" fill="#1b5c9c"/>
<path d="M503.3 88.7 L504.6 86.4 L505.9 88.7 Z" fill="#1b5c9c"/>
<path d="M502.1 91.6 L503.4 89.3 L504.7 91.6 Z" fill="#1b5c9c"/>
<path d="M502.1 97.2 L503.4 94.9 L504.7 97.2 Z" fill="#1b5c9c"/>
<path d="M504.1 96.7 L505.4 94.4 L506.7 96.7 Z" fill="#1b5c9c"/>
<path d="M502.1 103.3 L503.4 101 L504.7 103.3 Z" fill="#1b5c9c"/>
<path d="M502.1 108.6 L503.4 106.3 L504.7 108.6 Z" fill="#1b5c9c"/>
<path d="M502.1 122.2 L503.4 119.9 L504.7 122.2 Z" fill="#1b5c9c"/>
<line x1="38.5" y1="226.5" x2="38.5" y2="347.5" stroke="#262626" stroke-width="1.35" />
<line x1="35.3" y1="230.5" x2="38.5" y2="230.5" stroke="#262626" stroke-width="1" />
<text x="30.3" y="233.4" font-size="7.7" text-anchor="end" fill="#1a1a1a" class="ty">10</text>
<text x="30.25" y="230.4" font-size="5.4" text-anchor="start" fill="#1a1a1a" class="ty">5</text>
<line x1="35.3" y1="247.2" x2="38.5" y2="247.2" stroke="#262626" stroke-width="1" />
<text x="30.3" y="250.1" font-size="7.7" text-anchor="end" fill="#1a1a1a" class="ty">10</text>
<text x="30.25" y="247.1" font-size="5.4" text-anchor="start" fill="#1a1a1a" class="ty">4</text>
<line x1="35.3" y1="263.6" x2="38.5" y2="263.6" stroke="#262626" stroke-width="1" />
<text x="30.3" y="266.5" font-size="7.7" text-anchor="end" fill="#1a1a1a" class="ty">10</text>
<text x="30.25" y="263.5" font-size="5.4" text-anchor="start" fill="#1a1a1a" class="ty">3</text>
<line x1="35.3" y1="280.2" x2="38.5" y2="280.2" stroke="#262626" stroke-width="1" />
<text x="30.3" y="283.1" font-size="7.7" text-anchor="end" fill="#1a1a1a" class="ty">10</text>
<text x="30.25" y="280.1" font-size="5.4" text-anchor="start" fill="#1a1a1a" class="ty">2</text>
<line x1="35.3" y1="296.8" x2="38.5" y2="296.8" stroke="#262626" stroke-width="1" />
<text x="30.3" y="299.7" font-size="7.7" text-anchor="end" fill="#1a1a1a" class="ty">10</text>
<line x1="35.3" y1="313.6" x2="38.5" y2="313.6" stroke="#262626" stroke-width="1" />
<text x="30.3" y="316.5" font-size="7.7" text-anchor="end" fill="#1a1a1a" class="ty">1</text>
<line x1="35.3" y1="330.3" x2="38.5" y2="330.3" stroke="#262626" stroke-width="1" />
<text x="30.3" y="333.2" font-size="7.7" text-anchor="end" fill="#1a1a1a" class="ty">10</text>
<text x="30.25" y="330.2" font-size="4.6" text-anchor="start" fill="#1a1a1a" class="ty">−1</text>
<line x1="39.5" y1="272.7" x2="125.5" y2="272.7" stroke="#222" stroke-width="1" stroke-dasharray="1.05 1.28"/>
<line x1="39.5" y1="297.2" x2="125.5" y2="297.2" stroke="#222" stroke-width="1" stroke-dasharray="1.05 1.28"/>
<line x1="35.2" y1="346.9" x2="125.7" y2="346.9" stroke="#3c3c3c" stroke-width="1.5" />
<line x1="49.3" y1="346.9" x2="49.3" y2="349.9" stroke="#262626" stroke-width="1" />
<line x1="66" y1="346.9" x2="66" y2="349.9" stroke="#262626" stroke-width="1" />
<line x1="82.6" y1="346.9" x2="82.6" y2="349.9" stroke="#262626" stroke-width="1" />
<line x1="99.2" y1="346.9" x2="99.2" y2="349.9" stroke="#262626" stroke-width="1" />
<line x1="115.7" y1="346.9" x2="115.7" y2="349.9" stroke="#262626" stroke-width="1" />
<text x="52.6" y="353.1" font-size="8" text-anchor="end" font-weight="normal" fill="#1a1a1a" transform="rotate(-90 52.6 353.1)" class="t">&lt;2</text>
<text x="65.78" y="353.1" font-size="8" text-anchor="end" font-weight="normal" fill="#1a1a1a" transform="rotate(-90 65.78 353.1)" class="t">2–4</text>
<text x="78.96" y="353.1" font-size="8" text-anchor="end" font-weight="normal" fill="#1a1a1a" transform="rotate(-90 78.96 353.1)" class="t">4–6</text>
<text x="92.14" y="353.1" font-size="8" text-anchor="end" font-weight="normal" fill="#1a1a1a" transform="rotate(-90 92.14 353.1)" class="t">6–8</text>
<text x="105.32" y="353.1" font-size="8" text-anchor="end" font-weight="normal" fill="#1a1a1a" transform="rotate(-90 105.32 353.1)" class="t">8–10</text>
<text x="118.5" y="353.1" font-size="8" text-anchor="end" font-weight="normal" fill="#1a1a1a" transform="rotate(-90 118.5 353.1)" class="t">&gt;10</text>
<line x1="49.3" y1="243.1" x2="49.3" y2="251.3" stroke="#262626" stroke-width="1.15" />
<line x1="49.3" y1="265.6" x2="49.3" y2="300.1" stroke="#262626" stroke-width="1.15" />
<line x1="45.8" y1="243.1" x2="52.8" y2="243.1" stroke="#262626" stroke-width="1" />
<line x1="45.8" y1="300.1" x2="52.8" y2="300.1" stroke="#262626" stroke-width="1" />
<rect x="44.8" y="251.3" width="9" height="14.3" fill="#e28a9c" stroke="#c8304f" stroke-width="0.9"/>
<line x1="44.8" y1="259.5" x2="53.8" y2="259.5" stroke="#b8002a" stroke-width="1.2" />
<circle cx="47.8" cy="243.1" r="1.25" fill="#d4002a"/>
<circle cx="50.8" cy="243.1" r="1.25" fill="#d4002a"/>
<circle cx="49.3" cy="244" r="1.25" fill="#d4002a"/>
<circle cx="48.3" cy="245" r="1.25" fill="#d4002a"/>
<circle cx="47.8" cy="254" r="1.25" fill="#d4002a"/>
<circle cx="50.8" cy="255" r="1.25" fill="#d4002a"/>
<circle cx="49.3" cy="256" r="1.25" fill="#d4002a"/>
<circle cx="47.3" cy="261" r="1.25" fill="#d4002a"/>
<circle cx="51.3" cy="262" r="1.25" fill="#d4002a"/>
<circle cx="49.3" cy="263" r="1.25" fill="#d4002a"/>
<circle cx="48.3" cy="264.5" r="1.25" fill="#d4002a"/>
<circle cx="49.3" cy="270.2" r="1.25" fill="#d4002a"/>
<circle cx="49.3" cy="277" r="1.25" fill="#d4002a"/>
<circle cx="49.3" cy="300.1" r="1.25" fill="#d4002a"/>
<line x1="66" y1="243.4" x2="66" y2="254.9" stroke="#262626" stroke-width="1.15" />
<line x1="66" y1="260.2" x2="66" y2="309.5" stroke="#262626" stroke-width="1.15" />
<line x1="62.5" y1="243.4" x2="69.5" y2="243.4" stroke="#262626" stroke-width="1" />
<line x1="62.5" y1="309.5" x2="69.5" y2="309.5" stroke="#262626" stroke-width="1" />
<rect x="61" y="254.9" width="10" height="5.3" fill="#e28a9c" stroke="#c8304f" stroke-width="0.9"/>
<line x1="61" y1="257.9" x2="71" y2="257.9" stroke="#b8002a" stroke-width="1.2" />
<circle cx="66" cy="243.4" r="1.25" fill="#d4002a"/>
<circle cx="62" cy="254.5" r="1.25" fill="#d4002a"/>
<circle cx="64.5" cy="255" r="1.25" fill="#d4002a"/>
<circle cx="67.5" cy="254.5" r="1.25" fill="#d4002a"/>
<circle cx="70" cy="255" r="1.25" fill="#d4002a"/>
<circle cx="62" cy="257.5" r="1.25" fill="#d4002a"/>
<circle cx="66" cy="258" r="1.25" fill="#d4002a"/>
<circle cx="70" cy="257.5" r="1.25" fill="#d4002a"/>
<circle cx="63.5" cy="260" r="1.25" fill="#d4002a"/>
<circle cx="68.5" cy="260" r="1.25" fill="#d4002a"/>
<circle cx="66" cy="309.5" r="1.25" fill="#d4002a"/>
<line x1="82.6" y1="243.7" x2="82.6" y2="249.5" stroke="#262626" stroke-width="1.15" />
<line x1="82.6" y1="270.6" x2="82.6" y2="282.3" stroke="#262626" stroke-width="1.15" />
<line x1="79.1" y1="243.7" x2="86.1" y2="243.7" stroke="#262626" stroke-width="1" />
<line x1="79.1" y1="282.3" x2="86.1" y2="282.3" stroke="#262626" stroke-width="1" />
<rect x="78" y="249.5" width="9.2" height="21.1" fill="#e28a9c" stroke="#c8304f" stroke-width="0.9"/>
<line x1="78" y1="257.9" x2="87.2" y2="257.9" stroke="#b8002a" stroke-width="1.2" />
<circle cx="81.1" cy="243.7" r="1.25" fill="#d4002a"/>
<circle cx="84.1" cy="243.7" r="1.25" fill="#d4002a"/>
<circle cx="82.6" cy="245" r="1.25" fill="#d4002a"/>
<circle cx="81.1" cy="253" r="1.25" fill="#d4002a"/>
<circle cx="84.1" cy="254.5" r="1.25" fill="#d4002a"/>
<circle cx="82.6" cy="257.9" r="1.25" fill="#d4002a"/>
<circle cx="81.6" cy="259.5" r="1.25" fill="#d4002a"/>
<circle cx="82.6" cy="270.6" r="1.25" fill="#d4002a"/>
<circle cx="82.6" cy="277.8" r="1.25" fill="#d4002a"/>
<circle cx="82.6" cy="282.3" r="1.25" fill="#d4002a"/>
<line x1="99.2" y1="249.8" x2="99.2" y2="261.9" stroke="#262626" stroke-width="1" />
<line x1="95.7" y1="249.8" x2="102.7" y2="249.8" stroke="#262626" stroke-width="1" />
<line x1="95.7" y1="261.9" x2="102.7" y2="261.9" stroke="#262626" stroke-width="1" />
<line x1="94.7" y1="253.9" x2="103.7" y2="253.9" stroke="#262626" stroke-width="1" />
<circle cx="99.2" cy="249.8" r="1.25" fill="#d4002a"/>
<circle cx="99.2" cy="253.9" r="1.25" fill="#d4002a"/>
<circle cx="99.2" cy="261.9" r="1.25" fill="#d4002a"/>
<line x1="111.4" y1="254.9" x2="120" y2="254.9" stroke="#262626" stroke-width="1" />
<circle cx="115.7" cy="254.9" r="1.25" fill="#d4002a"/>
<line x1="173.5" y1="226.7" x2="173.5" y2="347.3" stroke="#262626" stroke-width="1.35" />
<line x1="170.3" y1="230.7" x2="173.5" y2="230.7" stroke="#262626" stroke-width="1" />
<text x="165" y="233.6" font-size="7.7" text-anchor="end" fill="#1a1a1a" class="ty">10</text>
<text x="164.95" y="230.6" font-size="5.4" text-anchor="start" fill="#1a1a1a" class="ty">2</text>
<line x1="170.3" y1="250.2" x2="173.5" y2="250.2" stroke="#262626" stroke-width="1" />
<text x="165" y="253.1" font-size="7.7" text-anchor="end" fill="#1a1a1a" class="ty">10</text>
<line x1="170.3" y1="269.4" x2="173.5" y2="269.4" stroke="#262626" stroke-width="1" />
<text x="165" y="272.3" font-size="7.7" text-anchor="end" fill="#1a1a1a" class="ty">1</text>
<line x1="170.3" y1="288.7" x2="173.5" y2="288.7" stroke="#262626" stroke-width="1" />
<text x="165" y="291.6" font-size="7.7" text-anchor="end" fill="#1a1a1a" class="ty">10</text>
<text x="164.95" y="288.6" font-size="4.6" text-anchor="start" fill="#1a1a1a" class="ty">−1</text>
<line x1="170.3" y1="308.2" x2="173.5" y2="308.2" stroke="#262626" stroke-width="1" />
<text x="165" y="311.1" font-size="7.7" text-anchor="end" fill="#1a1a1a" class="ty">10</text>
<text x="164.95" y="308.1" font-size="4.6" text-anchor="start" fill="#1a1a1a" class="ty">−2</text>
<line x1="170.3" y1="327.7" x2="173.5" y2="327.7" stroke="#262626" stroke-width="1" />
<text x="165" y="330.6" font-size="7.7" text-anchor="end" fill="#1a1a1a" class="ty">10</text>
<text x="164.95" y="327.6" font-size="4.6" text-anchor="start" fill="#1a1a1a" class="ty">−3</text>
<line x1="174.5" y1="275.4" x2="259.5" y2="275.4" stroke="#222" stroke-width="1" stroke-dasharray="1.05 1.28"/>
<line x1="174.5" y1="288.7" x2="259.5" y2="288.7" stroke="#222" stroke-width="1" stroke-dasharray="1.05 1.28"/>
<line x1="170.2" y1="346.7" x2="259.5" y2="346.7" stroke="#3c3c3c" stroke-width="1.5" />
<line x1="184.4" y1="346.7" x2="184.4" y2="349.7" stroke="#262626" stroke-width="1" />
<line x1="201" y1="346.7" x2="201" y2="349.7" stroke="#262626" stroke-width="1" />
<line x1="217.5" y1="346.7" x2="217.5" y2="349.7" stroke="#262626" stroke-width="1" />
<line x1="234.2" y1="346.7" x2="234.2" y2="349.7" stroke="#262626" stroke-width="1" />
<line x1="250.3" y1="346.7" x2="250.3" y2="349.7" stroke="#262626" stroke-width="1" />
<text x="187.4" y="352.9" font-size="8" text-anchor="end" font-weight="normal" fill="#1a1a1a" transform="rotate(-90 187.4 352.9)" class="t">&lt;2</text>
<text x="200.56" y="352.9" font-size="8" text-anchor="end" font-weight="normal" fill="#1a1a1a" transform="rotate(-90 200.56 352.9)" class="t">2–4</text>
<text x="213.72" y="352.9" font-size="8" text-anchor="end" font-weight="normal" fill="#1a1a1a" transform="rotate(-90 213.72 352.9)" class="t">4–6</text>
<text x="226.88" y="352.9" font-size="8" text-anchor="end" font-weight="normal" fill="#1a1a1a" transform="rotate(-90 226.88 352.9)" class="t">6–8</text>
<text x="240.04" y="352.9" font-size="8" text-anchor="end" font-weight="normal" fill="#1a1a1a" transform="rotate(-90 240.04 352.9)" class="t">8–10</text>
<text x="253.2" y="352.9" font-size="8" text-anchor="end" font-weight="normal" fill="#1a1a1a" transform="rotate(-90 253.2 352.9)" class="t">&gt;10</text>
<line x1="184.4" y1="274.2" x2="184.4" y2="288.7" stroke="#262626" stroke-width="1.15" />
<line x1="184.4" y1="308.6" x2="184.4" y2="346.7" stroke="#262626" stroke-width="1.15" />
<line x1="180.9" y1="274.2" x2="187.9" y2="274.2" stroke="#262626" stroke-width="1" />
<rect x="179.9" y="288.7" width="9" height="19.9" fill="#8ca9c6" stroke="#1f5a96" stroke-width="0.9"/>
<line x1="179.9" y1="293.3" x2="188.9" y2="293.3" stroke="#1a5592" stroke-width="1.2" />
<path d="M183.1 275.2 L184.4 272.9 L185.7 275.2 Z" fill="#1b5c9c"/>
<path d="M183.1 280.7 L184.4 278.4 L185.7 280.7 Z" fill="#1b5c9c"/>
<path d="M183.1 290.7 L184.4 288.4 L185.7 290.7 Z" fill="#1b5c9c"/>
<path d="M181.6 292.5 L182.9 290.2 L184.2 292.5 Z" fill="#1b5c9c"/>
<path d="M184.6 293 L185.9 290.7 L187.2 293 Z" fill="#1b5c9c"/>
<path d="M183.1 295.7 L184.4 293.4 L185.7 295.7 Z" fill="#1b5c9c"/>
<path d="M183.1 300 L184.4 297.7 L185.7 300 Z" fill="#1b5c9c"/>
<path d="M183.1 313 L184.4 310.7 L185.7 313 Z" fill="#1b5c9c"/>
<path d="M183.1 315.3 L184.4 313 L185.7 315.3 Z" fill="#1b5c9c"/>
<path d="M183.1 347.7 L184.4 345.4 L185.7 347.7 Z" fill="#1b5c9c"/>
<line x1="201" y1="276.1" x2="201" y2="281.8" stroke="#262626" stroke-width="1.15" />
<line x1="201" y1="291" x2="201" y2="346.7" stroke="#262626" stroke-width="1.15" />
<line x1="197.5" y1="276.1" x2="204.5" y2="276.1" stroke="#262626" stroke-width="1" />
<rect x="196.6" y="281.8" width="8.8" height="9.2" fill="#8ca9c6" stroke="#1f5a96" stroke-width="0.9"/>
<line x1="196.6" y1="286.4" x2="205.4" y2="286.4" stroke="#1a5592" stroke-width="1.2" />
<path d="M199.7 277.1 L201 274.8 L202.3 277.1 Z" fill="#1b5c9c"/>
<path d="M198.2 283 L199.5 280.7 L200.8 283 Z" fill="#1b5c9c"/>
<path d="M201.2 283.5 L202.5 281.2 L203.8 283.5 Z" fill="#1b5c9c"/>
<path d="M197.7 285.5 L199 283.2 L200.3 285.5 Z" fill="#1b5c9c"/>
<path d="M201.7 286 L203 283.7 L204.3 286 Z" fill="#1b5c9c"/>
<path d="M199.7 288.5 L201 286.2 L202.3 288.5 Z" fill="#1b5c9c"/>
<path d="M197.7 290 L199 287.7 L200.3 290 Z" fill="#1b5c9c"/>
<path d="M201.7 290.5 L203 288.2 L204.3 290.5 Z" fill="#1b5c9c"/>
<path d="M199.7 303.7 L201 301.4 L202.3 303.7 Z" fill="#1b5c9c"/>
<path d="M199.7 347.7 L201 345.4 L202.3 347.7 Z" fill="#1b5c9c"/>
<line x1="217.5" y1="232" x2="217.5" y2="281.8" stroke="#262626" stroke-width="1.15" />
<line x1="217.5" y1="296.7" x2="217.5" y2="305.9" stroke="#262626" stroke-width="1.15" />
<line x1="214" y1="232" x2="221" y2="232" stroke="#262626" stroke-width="1" />
<line x1="214" y1="305.9" x2="221" y2="305.9" stroke="#262626" stroke-width="1" />
<rect x="212.9" y="281.8" width="9.2" height="14.9" fill="#8ca9c6" stroke="#1f5a96" stroke-width="0.9"/>
<line x1="212.9" y1="288.7" x2="222.1" y2="288.7" stroke="#1a5592" stroke-width="1.2" />
<path d="M216.2 233 L217.5 230.7 L218.8 233 Z" fill="#1b5c9c"/>
<path d="M216.2 279.3 L217.5 277 L218.8 279.3 Z" fill="#1b5c9c"/>
<path d="M214.7 284 L216 281.7 L217.3 284 Z" fill="#1b5c9c"/>
<path d="M217.7 285 L219 282.7 L220.3 285 Z" fill="#1b5c9c"/>
<path d="M216.2 291.9 L217.5 289.6 L218.8 291.9 Z" fill="#1b5c9c"/>
<path d="M216.2 297.7 L217.5 295.4 L218.8 297.7 Z" fill="#1b5c9c"/>
<path d="M216.2 302.2 L217.5 299.9 L218.8 302.2 Z" fill="#1b5c9c"/>
<line x1="234.2" y1="280.6" x2="234.2" y2="296.2" stroke="#262626" stroke-width="1" />
<line x1="230.7" y1="280.6" x2="237.7" y2="280.6" stroke="#262626" stroke-width="1" />
<line x1="230.7" y1="296.2" x2="237.7" y2="296.2" stroke="#262626" stroke-width="1" />
<line x1="230.2" y1="286.8" x2="238.2" y2="286.8" stroke="#262626" stroke-width="1" />
<path d="M232.9 281.6 L234.2 279.3 L235.5 281.6 Z" fill="#1b5c9c"/>
<path d="M232.9 287.8 L234.2 285.5 L235.5 287.8 Z" fill="#1b5c9c"/>
<path d="M232.9 297.2 L234.2 294.9 L235.5 297.2 Z" fill="#1b5c9c"/>
<line x1="245.9" y1="285.7" x2="254.7" y2="285.7" stroke="#262626" stroke-width="1" />
<path d="M249 286.7 L250.3 284.4 L251.6 286.7 Z" fill="#1b5c9c"/>
</svg></body></html>
